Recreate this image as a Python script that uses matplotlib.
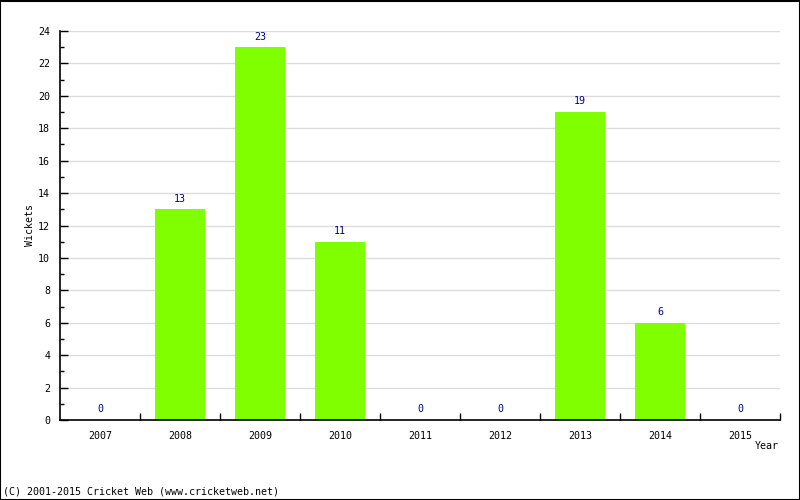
import matplotlib
matplotlib.use("Agg")
import matplotlib.pyplot as plt
from matplotlib.patches import Rectangle

years = ["2007", "2008", "2009", "2010", "2011", "2012", "2013", "2014", "2015"]
wickets = [0, 13, 23, 11, 0, 0, 19, 6, 0]
y_ticks = [0, 2, 4, 6, 8, 10, 12, 14, 16, 18, 20, 22, 24]

FONT = "DejaVu Sans Mono"
FS = 7.2
fig = plt.figure(figsize=(8, 5), dpi=100)
ax = fig.add_axes([60/800, 80/500, 720/800, 389/500])

x = list(range(len(years)))
ax.bar(x, wickets, width=0.62, color="#80ff00", zorder=2)
for xi, v in zip(x, wickets):
    ax.annotate(str(v), (xi, v), xytext=(0, 4), textcoords="offset points",
                ha="center", va="bottom", color="#000080", fontsize=FS, family=FONT)

ax.set_xlim(-0.5, len(years) - 0.5)
ax.set_ylim(0, 24)
ax.set_yticks(y_ticks)
ax.set_yticks(range(1, 24, 2), minor=True)
ax.set_yticklabels([str(t) for t in y_ticks], family=FONT, fontsize=FS)
ax.yaxis.grid(True, which="major", color="#dcdcdc", linewidth=1, zorder=0)
ax.set_axisbelow(True)

ax.set_xticks(x)
ax.set_xticklabels(years, family=FONT, fontsize=FS)
ax.tick_params(axis="x", which="major", length=0, pad=8)
ax.set_xticks([i + 0.5 for i in range(len(years))], minor=True)
ax.tick_params(axis="x", which="minor", direction="in", length=5, width=1, color="black")
ax.tick_params(axis="y", which="major", direction="in", length=6, width=1, pad=7)
ax.tick_params(axis="y", which="minor", direction="in", length=3, width=1)

for s in ["top", "right"]:
    ax.spines[s].set_visible(False)
ax.spines["left"].set_linewidth(1.2)
ax.spines["bottom"].set_linewidth(1.2)

fig.text(30/800, 1 - 225/500, "Wickets", rotation=90, ha="center", va="center",
         family=FONT, fontsize=FS)
fig.text(779/800, 1 - 446/500, "Year", ha="right", va="center", family=FONT, fontsize=FS)
fig.text(3/800, 1 - 492/500, "(C) 2001-2015 Cricket Web (www.cricketweb.net)", ha="left",
         va="center", family=FONT, fontsize=FS)

fig.patches.append(Rectangle((0.0006, 0.001), 0.9988, 0.998, transform=fig.transFigure,
                             fill=False, edgecolor="black", linewidth=1.5))
fig.savefig("out.png", dpi=100)
